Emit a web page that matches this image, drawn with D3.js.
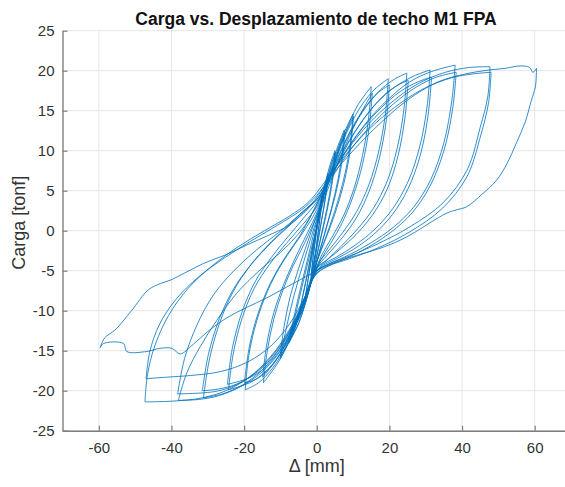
<!DOCTYPE html>
<html><head><meta charset="utf-8">
<script src="https://cdn.jsdelivr.net/npm/d3@7"></script>
<style>body{margin:0;background:#fff}svg{display:block}</style>
</head><body><svg id="c" width="565" height="487"></svg>
<script>
const titleText = "Carga vs. Desplazamiento de techo M1 FPA";
const xLabelText = "Δ [mm]";
const yLabelText = "Carga [tonf]";
const xTicks = [-60,-40,-20,0,20,40,60];
const yTicks = [-25,-20,-15,-10,-5,0,5,10,15,20,25];

// hysteresis cycles [desplazamiento mm, carga tonf]
const cycle01 = [[0,0],[0.8,2.5],[1.5,4.5],[1.0,2.0],[0.2,-1.0],[-0.6,-3.5],[-1.5,-5.5]];
const cycle02 = [[-1.5,-5.5],[-0.9,-3],[-0.1,0],[0.7,2.5],[1.6,4.6],[0.9,1.8],[0.1,-1.2],[-0.7,-3.8],[-1.6,-5.7]];
const cycle03 = [[-1.6,-5.7],[-0.8,-2.6],[0.1,0.5],[1.2,3.6],[2.2,5.8],[3.1,7.2],[2.4,4.2],[1.3,1.2],[0.2,-1.8],[-0.9,-4.5],[-2,-6.8],[-3,-8.2]];
const cycle04 = [[-3,-8.2],[-2.1,-5.2],[-0.9,-1.8],[0.3,1.2],[1.5,4],[2.4,5.9],[3.2,7],[2.3,3.8],[1.1,0.8],[-0.1,-2.2],[-1.2,-5],[-2.2,-6.9],[-3.1,-8]];
const cycle05 = [[-3.1,-8],[-1.9,-4.8],[-0.6,-1.4],[0.6,1.8],[2,5],[3.5,8],[5,10],[4.2,6.4],[2.8,2.8],[1.2,-0.6],[-0.3,-3.8],[-2,-7.2],[-3.6,-9.6],[-5.1,-11.2]];
const cycle06 = [[-5.1,-11.2],[-3.9,-8.3],[-2.2,-4.6],[-0.6,-1],[1,2.6],[2.6,5.8],[3.9,8.2],[5.2,9.8],[4.3,6.1],[2.8,2.4],[1.1,-1],[-0.4,-4],[-2.1,-7.3],[-3.7,-9.7],[-5.2,-11]];
const cycle07 = [[-5.2,-11],[-3.6,-7.6],[-1.9,-3.8],[-0.3,0],[1.4,3.4],[3.2,6.8],[5.2,9.8],[7.6,12.6],[6.7,8.6],[5,4.6],[3,1],[1,-2.2],[-0.8,-5.2],[-2.8,-8.6],[-5,-11.6],[-7.6,-14]];
const cycle08 = [[-7.6,-14],[-6,-10.8],[-4,-6.9],[-2,-3.2],[0,0.4],[2,3.9],[4,7.2],[6,10.2],[7.8,12.3],[6.8,8.2],[5,4.2],[2.8,0.6],[0.8,-2.6],[-1,-5.6],[-3,-8.8],[-5.2,-11.8],[-7.7,-13.8]];
const cycle09 = [[-7.7,-13.8],[-6,-10.2],[-4,-6.3],[-2,-2.6],[0,1.2],[2.2,4.9],[4.6,8.6],[7.2,11.9],[10,14.6],[9.1,10.4],[7.3,6.2],[5,2.5],[2.5,-0.8],[0.2,-3.6],[-2,-6.9],[-4.5,-10.3],[-7.2,-13.5],[-10,-16]];
const cycle10 = [[-10,-16],[-8.4,-12.2],[-6.2,-8],[-3.8,-4.2],[-1.4,-0.6],[1,2.9],[3.6,6.8],[6.5,10.7],[10.1,14.3],[9.2,10],[7.4,5.8],[5,2.1],[2.4,-1.1],[0,-3.9],[-2.2,-7.2],[-4.8,-10.7],[-7.5,-13.8],[-10.1,-15.7]];
const cycle11 = [[-10.1,-15.7],[-9,-12],[-7.4,-8.4],[-5.2,-5],[-2.8,-1.8],[-0.4,1.4],[2.2,4.8],[5,8.6],[8,12.4],[11.3,15.7],[15,18],[14.2,13.8],[12.6,9.4],[10.2,5.2],[7.3,1.8],[4.2,-0.8],[1.2,-3.2],[-1.2,-6],[-3.8,-9.4],[-6.8,-12.9],[-10.4,-16.3],[-14.7,-19]];
const cycle12 = [[-14.7,-19],[-13.6,-15],[-11.8,-11],[-9.3,-7.4],[-6.4,-4.3],[-3.4,-1.6],[-0.6,1.2],[2.4,4.4],[5.6,8.2],[9,11.8],[12.4,14.9],[15.3,17.2],[14.4,12.8],[12.6,8.3],[10,4.3],[7,1],[3.8,-1.6],[0.8,-3.9],[-1.6,-6.5],[-4.4,-9.8],[-7.6,-13.2],[-11.2,-16.2],[-14.9,-18.3]];
const cycle13 = [[-14.9,-18.3],[-13.8,-14.3],[-11.8,-10.2],[-9,-6.6],[-5.8,-3.3],[-2.6,-0.3],[0.2,2.4],[2.8,5.6],[5.6,9.3],[8.8,12.8],[12.4,15.7],[16,17.7],[19.7,19],[18.9,14.6],[17.1,10],[14.4,5.8],[11,2.4],[7.2,-0.2],[3.4,-2.4],[0.3,-4.2],[-2.2,-7.2],[-5,-10.8],[-8.4,-14.4],[-12.2,-17.2],[-16,-19],[-19.7,-19.9]];
const cycle14 = [[-19.7,-19.9],[-18.7,-15.6],[-16.6,-11.4],[-13.6,-7.6],[-10,-4.4],[-6.2,-1.8],[-2.6,0.6],[0.2,2.8],[2.8,5.6],[6,9.2],[9.6,12.6],[13.6,15.5],[17,17.3],[20,18.2],[19.1,13.6],[17.2,9],[14.4,4.9],[10.9,1.6],[7,-0.9],[3.2,-2.9],[0.2,-4.5],[-2.4,-7.6],[-5.4,-11.2],[-9,-14.6],[-13,-17.2],[-16.8,-18.6],[-19.9,-19]];
const cycle15 = [[-19.9,-19],[-18.6,-14.6],[-16.2,-10.4],[-12.8,-6.6],[-8.8,-3.4],[-4.6,-0.6],[-0.8,2.6],[2.2,5.4],[5.6,9],[9.4,12.6],[13.6,15.6],[18,17.8],[21.6,19],[24.8,19.7],[24,15.2],[22.2,10.4],[19.4,6.2],[15.6,2.8],[11.2,0.2],[6.6,-2],[2.6,-3.7],[0,-4.6],[-2.4,-7.6],[-5.4,-11.2],[-9,-14.6],[-13.2,-17.2],[-17.6,-18.8],[-21.4,-19.5],[-24.3,-19.9]];
const cycle16 = [[-24.3,-19.9],[-23,-15.4],[-20.6,-11],[-17.2,-7.2],[-13,-4.2],[-8.4,-1.6],[-3.8,0.8],[0,3],[3,5.8],[6.6,9.2],[10.6,12.4],[15,15.2],[19.4,17.3],[22.8,18.3],[25.2,18.8],[24.3,14.2],[22.4,9.4],[19.4,5.2],[15.4,2],[10.8,-0.5],[6.2,-2.4],[2.2,-3.9],[-0.2,-4.8],[-2.6,-7.9],[-5.8,-11.4],[-9.6,-14.6],[-14,-17],[-18.6,-18.4],[-24.6,-19.2]];
const cycle17 = [[-24.6,-19.2],[-23.2,-14.6],[-20.6,-10.2],[-17,-6.4],[-12.6,-3.4],[-8,-0.8],[-3.6,1.6],[0,3.6],[3.2,6.4],[7,9.8],[11.4,13],[16.4,15.9],[21.6,18],[26.6,19.3],[31.2,20.1],[30.4,15.6],[28.4,10.6],[25.2,6.2],[21,2.8],[16,0.2],[10.6,-1.8],[5.4,-3.3],[1.4,-4.3],[-1,-5.6],[-3.4,-8.6],[-6.6,-12.2],[-10.6,-15.4],[-15.4,-17.8],[-20.6,-19.4],[-26,-20.4],[-31.2,-20.9]];
const cycle18 = [[-31.2,-20.9],[-29.6,-16.2],[-26.8,-11.6],[-23,-7.6],[-18.4,-4.4],[-13.4,-1.8],[-8.4,0.4],[-3.8,2.4],[0,3.9],[3.6,6.6],[7.8,9.8],[12.6,12.8],[17.8,15.4],[23,17.4],[27.8,18.6],[31.6,19.2],[30.7,14.6],[28.6,9.6],[25.2,5.3],[20.8,2],[15.6,-0.5],[10.2,-2.3],[5,-3.6],[1,-4.6],[-1.4,-6.2],[-4,-9.2],[-7.4,-12.6],[-11.8,-15.6],[-16.8,-17.8],[-22.2,-19.2],[-27.2,-19.8],[-31.5,-20]];
const cycle19 = [[-31.5,-20],[-29.8,-15.4],[-26.8,-11],[-22.8,-7.2],[-18,-4.2],[-12.8,-1.6],[-7.6,0.6],[-3,2.6],[0.2,4],[4,7],[8.6,10.4],[13.8,13.6],[19.6,16.4],[25.6,18.6],[31.6,19.9],[38.1,20.7],[37.2,16.3],[35,11],[31.4,6.4],[26.6,2.9],[21,0.4],[15,-1.5],[9,-3],[3.6,-4.1],[0,-5],[-2.6,-7.6],[-5.8,-11.2],[-10,-14.6],[-15,-17.4],[-20.8,-19.4],[-26.8,-20.6],[-32.6,-21.1],[-38.1,-21.2]];
const cycle20 = [[-38.1,-21.2],[-35.8,-17.8],[-32.1,-14.5],[-27.5,-11.2],[-22,-7.8],[-15.6,-4.9],[-8.3,-2],[-3,0.8],[0.4,3.6],[4.4,6.8],[9.4,10.2],[15,13.2],[21,15.8],[27.2,17.9],[33,19.2],[38.4,19.8],[37.4,15.2],[35,10],[31.2,5.6],[26.2,2.2],[20.4,-0.2],[14.4,-2],[8.4,-3.4],[3.2,-4.4],[-0.2,-5.4],[-3,-8.2],[-6.4,-11.6],[-10.8,-14.8],[-16,-17.4],[-21.8,-19.2],[-28,-20.1],[-38.3,-20.4]];
const cycle21 = [[-38.3,-20.4],[-36.4,-16],[-33,-11.8],[-28.4,-8],[-22.8,-5],[-16.6,-2.4],[-10.4,-0.2],[-4.8,2],[-0.6,3.8],[3.6,6.8],[8.6,10.2],[14.4,13.4],[21,16.2],[28,18.4],[35.4,19.8],[42,20.4],[47.7,20.5],[47.1,16.8],[45,12.9],[41.4,7.6],[34.8,3.5],[25.7,0.5],[17,-1.6],[9.4,-3.1],[3.2,-4.2],[-0.2,-5.2],[-3,-8],[-6.6,-11.6],[-11.4,-15],[-17.2,-17.8],[-24,-19.8],[-31.6,-20.9],[-39.6,-21.3],[-47.3,-21.4]];
const cycle22 = [[-47.3,-21.4],[-46.6,-18],[-44.6,-14.4],[-40.8,-10.6],[-35.4,-7.2],[-28.8,-4.4],[-21.6,-2],[-14.4,0],[-7.6,1.8],[-2.2,3.6],[2.4,6.2],[7.8,9.4],[14.2,12.6],[21.4,15.4],[29.2,17.7],[37,19.1],[43,19.6],[48,19.8],[47.3,16],[45.2,12],[41.4,6.8],[34.6,2.8],[25.4,-0.2],[16.6,-2.2],[9,-3.5],[2.8,-4.5],[-0.4,-5.6],[-3.4,-8.4],[-7.4,-11.6],[-12.6,-14.4],[-19,-16.4],[-26.4,-17.6],[-34.8,-18.1],[-41,-18.3],[-47,-18.5]];
const cycle23 = [[-47,-18.5],[-46,-15.2],[-43.4,-11.8],[-38.8,-8.6],[-32.6,-5.8],[-25.4,-3.4],[-17.8,-1.2],[-10.4,0.8],[-4.2,2.6],[0,4.4],[4.6,7.2],[10.4,10.2],[17.4,13.4],[25.2,16.4],[33.4,18.6],[41,19.6],[47.7,20.1],[52,20.3],[56,20.6],[58.6,20.4],[59.5,19.8],[60.5,20.3],[60.2,18],[59.1,16.3],[57.4,13.6],[55,11],[52.4,8.4],[49.5,6.3],[45.6,4.6],[41.3,3],[38.4,2.6],[35.8,2.2],[31.2,1],[27,-0.2],[22.9,-1.2],[17.4,-2.2],[11.6,-3],[6,-3.8],[1.6,-4.6],[-1.6,-5.4],[-6.5,-6.6],[-13.8,-8.4],[-19.3,-9.6],[-24.8,-10.9],[-30,-12.6],[-34,-14.2],[-37.6,-15.4],[-39.9,-14.7],[-43.1,-14.7],[-46.8,-15.1],[-52.3,-15.1],[-53.2,-14.1],[-58.7,-14.1],[-59.6,-14.6]];
const cycle24 = [[-59.6,-14.6],[-58.4,-13.4],[-55.5,-12.4],[-51,-10],[-46.4,-7.4],[-43,-6.6],[-40.4,-6.2],[-36,-5.2],[-31.2,-4.1],[-25,-3],[-19.3,-1.8],[-13.4,-0.6],[-8.3,0.5],[-3.6,2.2],[0,4]];

const cycles = [cycle01,cycle02,cycle03,cycle04,cycle05,cycle06,cycle07,cycle08,cycle09,cycle10,cycle11,cycle12,
  cycle13,cycle14,cycle15,cycle16,cycle17,cycle18,cycle19,cycle20,cycle21,cycle22,cycle23,cycle24];

const svg = d3.select("#c");
const x = d3.scaleLinear().domain([-70, 70]).range([62.5, 571]);
const y = d3.scaleLinear().domain([-25, 25]).range([430.7, 30.7]);
const font = "'Liberation Sans', Arial, Helvetica, sans-serif";

svg.append("defs").append("clipPath").attr("id","plotclip")
  .append("rect").attr("x", x(-70)).attr("y", y(25)).attr("width", x(70)-x(-70)).attr("height", y(-25)-y(25));

// grid
const grid = svg.append("g").attr("stroke", "#e6e6e6").attr("stroke-width", 1);
grid.selectAll(".gx").data(xTicks).join("line")
  .attr("x1", d => x(d)).attr("x2", d => x(d)).attr("y1", y(25)).attr("y2", y(-25));
grid.selectAll(".gy").data(yTicks).join("line")
  .attr("x1", x(-70)).attr("x2", x(70)).attr("y1", d => y(d)).attr("y2", d => y(d));

// curves
const line = d3.line().x(d => x(d[0])).y(d => y(d[1])).curve(d3.curveCatmullRom.alpha(0.5));
const branches = [];
cycles.forEach(c => {
  let im = 0;
  c.forEach((p, i) => { if (p[0] > c[im][0]) im = i; });
  branches.push(c.slice(0, im + 1));
  if (c.length - im > 1) branches.push(c.slice(im));
});
svg.append("g").attr("clip-path", "url(#plotclip)")
  .selectAll("path").data(branches).join("path")
  .attr("d", line).attr("fill", "none")
  .attr("stroke", "#0072BD").attr("stroke-width", 0.9).attr("stroke-opacity", 0.9)
  .attr("stroke-linejoin", "round");

// axes
const fmt = d => String(d);
const gx = svg.append("g").attr("transform", `translate(0,${y(-25)})`)
  .call(d3.axisBottom(x).tickValues(xTicks).tickFormat(fmt).tickSize(-5).tickSizeOuter(0).tickPadding(12));
const gy = svg.append("g").attr("transform", `translate(${x(-70)},0)`)
  .call(d3.axisLeft(y).tickValues(yTicks).tickFormat(fmt).tickSize(-5).tickSizeOuter(0).tickPadding(8));
[gx, gy].forEach(g => {
  g.select(".domain").attr("stroke", "#7f7f7f").attr("stroke-width", 1.4);
  g.selectAll(".tick line").attr("stroke", "#7f7f7f").attr("stroke-width", 1.2);
  g.selectAll(".tick text").attr("fill", "#333").attr("font-family", font).attr("font-size", 15);
});

// texts
svg.append("text").attr("x", 316).attr("y", 24.5).attr("text-anchor", "middle")
  .attr("font-family", font).attr("font-weight", "bold").attr("font-size", 17.5).attr("fill", "#111")
  .text(titleText);
svg.append("text").attr("x", x(0)).attr("y", 472).attr("text-anchor", "middle")
  .attr("font-family", font).attr("font-size", 18).attr("fill", "#333").text(xLabelText);
svg.append("text").attr("transform", `translate(25,${y(0)-8}) rotate(-90)`).attr("text-anchor", "middle")
  .attr("font-family", font).attr("font-size", 18).attr("fill", "#333").text(yLabelText);
</script></body></html>
